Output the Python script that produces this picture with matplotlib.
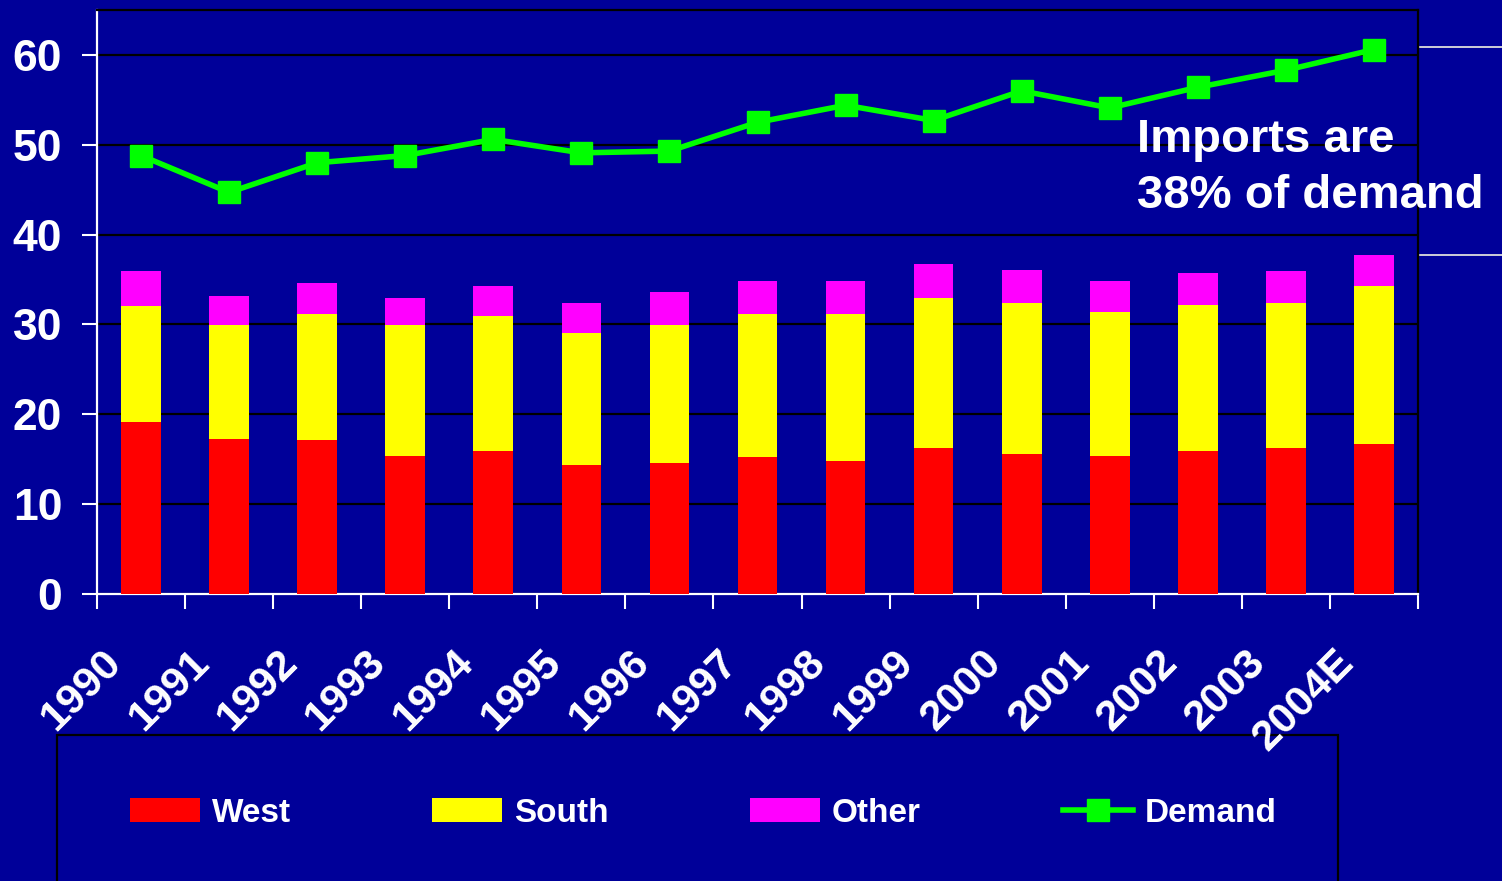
import matplotlib.pyplot as plt
import numpy as np
from matplotlib.lines import Line2D
from matplotlib.patches import Rectangle

BG = '#000099'

years = ['1990', '1991', '1992', '1993', '1994', '1995', '1996', '1997',
         '1998', '1999', '2000', '2001', '2002', '2003', '2004E']
west = [19.1, 17.3, 17.1, 15.4, 15.9, 14.4, 14.6, 15.2, 14.8, 16.2, 15.6, 15.4, 15.9, 16.2, 16.7]
south = [12.9, 12.6, 14.1, 14.5, 15.0, 14.7, 15.3, 16.0, 16.4, 16.8, 16.8, 16.0, 16.3, 16.2, 17.6]
other = [3.9, 3.3, 3.4, 3.1, 3.4, 3.3, 3.7, 3.6, 3.6, 3.7, 3.7, 3.4, 3.5, 3.5, 3.4]
demand = [48.8, 44.7, 48.0, 48.8, 50.6, 49.1, 49.3, 52.5, 54.4, 52.7, 56.0, 54.1, 56.4, 58.3, 60.6]

plt.rcParams['font.family'] = ['Liberation Sans', 'DejaVu Sans']
plt.rcParams['font.weight'] = 'bold'

W, H = 1502, 881
fig = plt.figure(figsize=(W / 100, H / 100), dpi=100, facecolor=BG)
ax = fig.add_axes([97 / W, 1 - 594 / H, (1418 - 97) / W, (594 - 10) / H])
ax.set_facecolor(BG)
ax.set_zorder(2)

x = np.arange(len(years))
w = np.array(west)
s = np.array(south)
o = np.array(other)
bw = 0.45
b1 = ax.bar(x, w, bw, color='#FF0000', label='West', zorder=3)
b2 = ax.bar(x, s, bw, bottom=w, color='#FFFF00', label='South', zorder=3)
b3 = ax.bar(x, o, bw, bottom=w + s, color='#FF00FF', label='Other', zorder=3)
ln, = ax.plot(x, demand, color='#00FF00', lw=4, marker='s', ms=16.5,
              label='Demand', zorder=4)

ax.set_xlim(-0.5, len(years) - 0.5)
ax.set_ylim(0, 65)
ax.set_yticks(range(0, 61, 10))
ax.yaxis.grid(True, color='black', lw=1.6, zorder=1)
ax.tick_params(axis='y', colors='white', labelsize=32, length=11, width=1.5, pad=14)

# ticks at the bar boundaries, labels near the bar centres
ax.set_xticks(np.arange(-0.5, len(years), 1))
ax.set_xticklabels([])
ax.set_xticks(x - 0.3, minor=True)
ax.set_xticklabels(years, minor=True)
ax.tick_params(axis='x', which='major', colors='white', length=11, width=1.5)
ax.tick_params(axis='x', which='minor', colors='white', length=0, labelsize=31, pad=45)
plt.setp(ax.get_xticklabels(minor=True), rotation=45, ha='right', va='center',
         rotation_mode='anchor')

for side in ['left', 'bottom']:
    ax.spines[side].set_color('white')
    ax.spines[side].set_linewidth(1.6)
for side in ['top', 'right']:
    ax.spines[side].set_color('black')
    ax.spines[side].set_linewidth(1.6)

fig.text(1137 / W, 1 - 152 / H, 'Imports are', color='white', fontsize=34,
         fontweight='bold', va='baseline')
fig.text(1137 / W, 1 - 208 / H, '38% of demand', color='white', fontsize=34,
         fontweight='bold', va='baseline')

for yy in [47, 255]:
    fig.add_artist(Line2D([1420 / W, 1], [1 - yy / H] * 2, color='#dddddd', lw=1.3))

box = Rectangle((57 / W, -0.1), (1338 - 57) / W, 0.1 + 1 - 735 / H,
                transform=fig.transFigure, facecolor=BG, edgecolor='black', lw=1.6)
box.set_zorder(1)
fig.add_artist(box)

fig.legend([b1, b2, b3, ln], ['West', 'South', 'Other', 'Demand'],
           loc='center left', bbox_to_anchor=(130 / W, 1 - 813 / H), ncol=4,
           frameon=False, prop={'weight': 'bold', 'size': 24}, labelcolor='white',
           handlelength=2.1, handleheight=0.7, handletextpad=0.35,
           columnspacing=4.25, borderpad=0, borderaxespad=0)

fig.savefig('out.png', dpi=100, facecolor=BG)
